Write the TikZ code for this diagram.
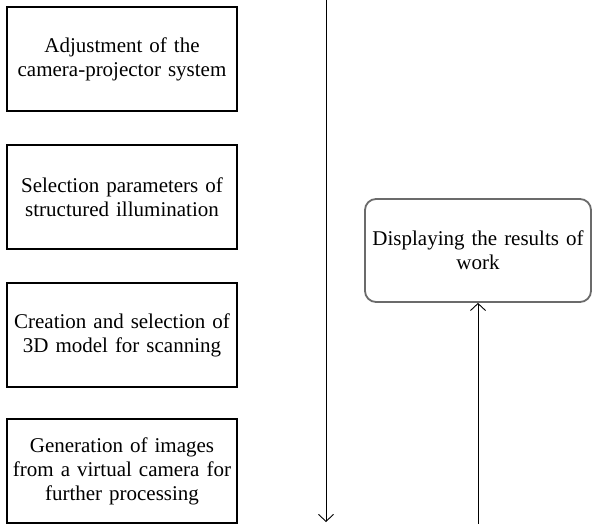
\documentclass[tikz,border=0pt]{standalone}
\usepackage{fontspec}
\setmainfont{Liberation Serif}
\usetikzlibrary{arrows.meta}
\begin{document}
\begin{tikzpicture}[x=1pt,y=-1pt,
  stepbox/.style={draw=black, line width=2pt, minimum width=230pt, minimum height=104pt,
    text width=226pt, align=center, inner sep=0pt, font=\fontsize{21}{24}\selectfont},
  resbox/.style={draw=black!58, line width=1.8pt, rounded corners=11pt, minimum width=226pt, minimum height=103pt,
    text width=224pt, align=center, inner sep=0pt, font=\fontsize{21}{24}\selectfont},
  flow/.style={line width=0.9pt, -{Straight Barb[length=7pt,width=15pt,line width=0.9pt]}}]
\useasboundingbox (0,0) rectangle (592,524);
\node[stepbox] (b1) at (122,59) {Adjustment of the\\camera-projector system};
\node[stepbox] (b2) at (122,197) {Selection parameters of\\structured illumination};
\node[stepbox] (b3) at (122,335) {Creation and selection of\\3D model for scanning};
\node[stepbox] (b4) at (122,471) {Generation of images\\from a virtual camera for\\further processing};
\node[resbox] (res) at (478,250.5) {Displaying the results of\\work};
\coordinate (ltop) at (326,0);
\coordinate (lbot) at (326,522);
\coordinate (rbot) at (res.south |- 0,524);
\draw[flow] (ltop) -- (lbot);
\draw[flow] (rbot) -- (res.south);
\end{tikzpicture}
\end{document}
